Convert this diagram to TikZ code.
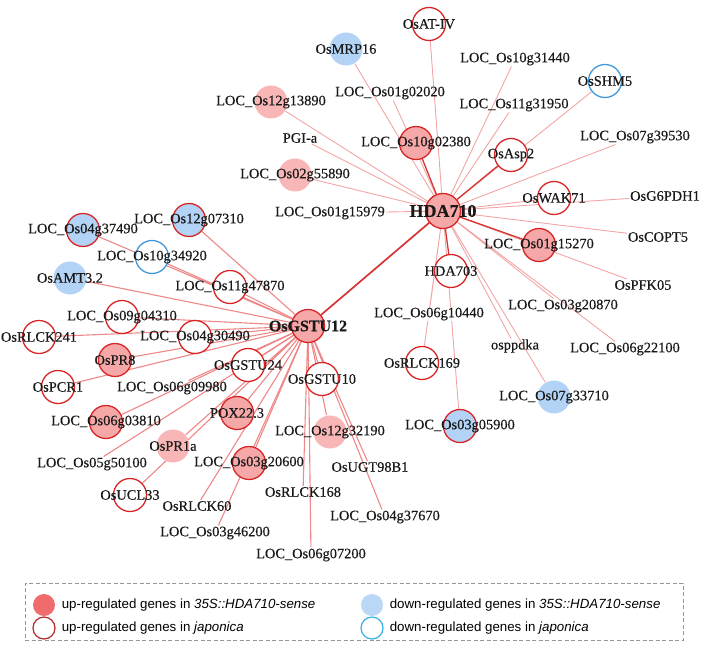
\documentclass[tikz,border=0pt]{standalone}
\usepackage{fontspec}
\setmainfont{Liberation Serif}
\setsansfont{Liberation Sans}
\newfontfamily\genefont{Liberation Serif}[FakeBold=0.4]
\usetikzlibrary{positioning, backgrounds}

\definecolor{nodepink}{RGB}{246,168,168}
\definecolor{nodepinklt}{RGB}{248,182,182}
\definecolor{nodered}{RGB}{216,36,36}
\definecolor{nodeblue}{RGB}{178,211,246}
\definecolor{nodecyan}{RGB}{64,152,218}
\definecolor{edgelight}{RGB}{242,165,165}
\definecolor{edgemid}{RGB}{238,135,135}
\definecolor{edgedark}{RGB}{214,52,52}
\definecolor{legred}{RGB}{240,108,108}
\definecolor{legblue}{RGB}{186,216,246}
\definecolor{legdark}{RGB}{178,40,46}
\definecolor{legcyan}{RGB}{52,178,226}
\definecolor{legframe}{RGB}{150,150,150}

\begin{document}
\begin{tikzpicture}[
    x=1pt, y=-1pt,
    font=\genefont\fontsize{14.4}{16}\selectfont,
    gene/.style={circle, minimum size=33pt, inner sep=0pt, line width=1.3pt},
    upboth/.style={gene, fill=nodepink, draw=nodered},
    upsense/.style={gene, fill=nodepinklt},
    upjap/.style={gene, fill=white, draw=nodered},
    downup/.style={gene, fill=nodeblue, draw=nodered},
    downsense/.style={gene, fill=nodeblue},
    downjap/.style={gene, fill=white, draw=nodecyan},
    lbl/.style={inner sep=1pt, text=black!90},
    hub/.style={font=\genefont\fontsize{18}{20}\selectfont\bfseries},
    tie/.style={draw=edgelight, line width=0.9pt},
    spoke/.style={draw=edgemid, line width=1.1pt},
    strong/.style={draw=edgedark, line width=1.7pt},
    keydot/.style={circle, minimum size=22pt, inner sep=0pt, line width=1.2pt},
    keytxt/.style={font=\sffamily\fontsize{13.3}{15}\selectfont, inner sep=0pt},
]
\useasboundingbox (0,0) rectangle (708,644);

% --- hubs ---
\node[upboth, minimum size=35pt, label={[lbl, hub]center:HDA710}] (hda710) at (443,211) {};
\node[upboth, label={[lbl, font=\genefont\fontsize{16}{18}\selectfont\bfseries]center:OsGSTU12}] (gstu12) at (308,326) {};

% --- HDA710 neighbours ---
\node[upjap, label={[lbl]center:OsAT-IV}] (oat4) at (429,24) {};
\node[downsense, label={[lbl]center:OsMRP16}] (mrp16) at (346,49) {};
\node[upsense, label={[lbl]center:LOC\_Os12g13890}] (g1213890) at (271,102) {};
\node[upboth, label={[lbl]center:LOC\_Os10g02380}] (g1002380) at (416,143) {};
\node[upsense, label={[lbl]center:LOC\_Os02g55890}] (g0255890) at (295,175) {};
\node[downjap, label={[lbl]center:OsSHM5}] (shm5) at (605,81) {};
\node[upjap, label={[lbl]center:OsAsp2}] (asp2) at (511,155) {};
\node[upjap, label={[lbl]center:OsWAK71}] (wak71) at (554,198) {};
\node[upboth, label={[lbl]center:LOC\_Os01g15270}] (g0115270) at (539,245) {};
\node[upjap, label={[lbl]center:HDA703}] (hda703) at (451,271) {};
\node[upjap, label={[lbl]center:OsRLCK169}] (rlck169) at (422,363) {};
\node[downup, label={[lbl]center:LOC\_Os03g05900}] (g0305900) at (460,426) {};
\node[downsense, label={[lbl]center:LOC\_Os07g33710}] (g0733710) at (554,397) {};

\node[lbl] (g0102020) at (390,93) {LOC\_Os01g02020};
\node[lbl] (pgia) at (300,138) {PGI-a};
\node[lbl] (g0115979) at (330,213) {LOC\_Os01g15979};
\node[lbl] (g1031440) at (515,59) {LOC\_Os10g31440};
\node[lbl] (g1131950) at (514,105) {LOC\_Os11g31950};
\node[lbl] (g0739530) at (635,137) {LOC\_Os07g39530};
\node[lbl] (g6pdh1) at (665,196) {OsG6PDH1};
\node[lbl] (copt5) at (658,237) {OsCOPT5};
\node[lbl] (pfk05) at (643,285) {OsPFK05};
\node[lbl] (g0320870) at (563,306) {LOC\_Os03g20870};
\node[lbl] (g0622100) at (625,349) {LOC\_Os06g22100};
\node[lbl] (ppdka) at (515,346) {osppdka};
\node[lbl, fill=white, fill opacity=0.8, text opacity=1] (g0610440) at (429,314) {LOC\_Os06g10440};

% --- OsGSTU12 neighbours ---
\node[downup, label={[lbl]center:LOC\_Os04g37490}] (g0437490) at (83,230) {};
\node[downup, label={[lbl]center:LOC\_Os12g07310}] (g1207310) at (189,220) {};
\node[downjap, label={[lbl]center:LOC\_Os10g34920}] (g1034920) at (152,257) {};
\node[downsense, label={[lbl]center:OsAMT3.2}] (amt32) at (70,278) {};
\node[upjap, label={[lbl]center:LOC\_Os11g47870}] (g1147870) at (230,287) {};
\node[upjap, label={[lbl]center:LOC\_Os09g04310}] (g0904310) at (122,317) {};
\node[upjap, label={[lbl]center:OsRLCK241}] (rlck241) at (39,337) {};
\node[upjap, label={[lbl]center:LOC\_Os04g30490}] (g0430490) at (195,337) {};
\node[upboth, label={[lbl]center:OsPR8}] (pr8) at (115,360) {};
\node[upjap, label={[lbl]center:OsGSTU24}] (gstu24) at (248,365) {};
\node[upjap, label={[lbl]center:OsGSTU10}] (gstu10) at (322,379) {};
\node[upjap, label={[lbl]center:OsPCR1}] (pcr1) at (58,387) {};
\node[upboth, label={[lbl]center:LOC\_Os06g03810}] (g0603810) at (106,422) {};
\node[upboth, label={[lbl]center:POX22.3}] (pox223) at (237,413) {};
\node[upsense, label={[lbl]center:OsPR1a}] (pr1a) at (173,446) {};
\node[upjap, label={[lbl]center:OsUCL33}] (ucl33) at (130,495) {};
\node[upboth, label={[lbl]center:LOC\_Os03g20600}] (g0320600) at (249,463) {};
\node[upsense, label={[lbl]center:LOC\_Os12g32190}] (g1232190) at (330,432) {};

\node[lbl] (g0609980) at (172,388) {LOC\_Os06g09980};
\node[lbl] (g0550100) at (92,464) {LOC\_Os05g50100};
\node[lbl] (rlck60) at (197,506) {OsRLCK60};
\node[lbl] (g0346200) at (215,533) {LOC\_Os03g46200};
\node[lbl] (ugt98b1) at (370,467) {OsUGT98B1};
\node[lbl] (rlck168) at (303,492) {OsRLCK168};
\node[lbl] (g0437670) at (385,517) {LOC\_Os04g37670};
\node[lbl] (g0607200) at (311,555) {LOC\_Os06g07200};

% --- edges ---
\begin{scope}[on background layer]
\draw[tie] (hda710) -- (oat4) (hda710) -- (mrp16) (hda710) -- (g1213890);
\draw[tie] (hda710) -- (g0102020) (hda710) -- (pgia) (hda710) -- (g0255890);
\draw[tie] (hda710) -- (g0115979) (hda710) -- (g1031440) (hda710) -- (g1131950);
\draw[tie] (hda710) -- (shm5) (hda710) -- (g0739530) (hda710) -- (wak71);
\draw[tie] (hda710) -- (g6pdh1) (hda710) -- (copt5) (hda710) -- (pfk05);
\draw[tie] (hda710) -- (g0320870) (hda710) -- (g0622100) (hda710) -- (ppdka);
\draw[tie] (hda710) -- (g0610440) (hda710) -- (rlck169) (hda710) -- (g0305900);
\draw[tie] (hda710) -- (g0733710);
\draw[strong, line width=1.3pt] (hda710) -- (g1002380) (hda710) -- (asp2)
     (hda710) -- (g0115270) (hda710) -- (hda703);
\draw[strong] (hda710) -- (gstu12);

\draw[spoke] (gstu12) -- (g0437490) (gstu12) -- (g1207310) (gstu12) -- (g1034920);
\draw[spoke] (gstu12) -- (amt32) (gstu12) -- (g1147870) (gstu12) -- (g0904310);
\draw[spoke] (gstu12) -- (rlck241) (gstu12) -- (g0430490) (gstu12) -- (pr8);
\draw[spoke] (gstu12) -- (pcr1) (gstu12) -- (g0609980) (gstu12) -- (gstu24);
\draw[spoke] (gstu12) -- (g0603810) (gstu12) -- (g0550100) (gstu12) -- (pox223);
\draw[spoke] (gstu12) -- (pr1a) (gstu12) -- (ucl33) (gstu12) -- (g0320600);
\draw[spoke] (gstu12) -- (rlck60) (gstu12) -- (g0346200) (gstu12) -- (gstu10);
\draw[spoke] (gstu12) -- (g1232190) (gstu12) -- (rlck168) (gstu12) -- (g0607200);
\draw[spoke] (gstu12) -- (ugt98b1) (gstu12) -- (g0437670);
\end{scope}

% --- legend ---
\node[draw=legframe, line width=0.9pt, dash pattern=on 4pt off 2.5pt,
      minimum width=658pt, minimum height=57pt, inner sep=0pt] (legendbox) at (354,611.5) {};
\node[keydot, fill=legred] (kupsense) at (44,605) {};
\node[keydot, fill=legblue] (kdownsense) at (372,605) {};
\node[keydot, fill=white, draw=legdark] (kupjap) at (44,628) {};
\node[keydot, fill=white, draw=legcyan] (kdownjap) at (372,628) {};
\node[keytxt, right=6pt of kupsense] {up-regulated genes in \textit{35S::HDA710-sense}};
\node[keytxt, right=6pt of kdownsense] {down-regulated genes in \textit{35S::HDA710-sense}};
\node[keytxt, right=6pt of kupjap] {up-regulated genes in \textit{japonica}};
\node[keytxt, right=6pt of kdownjap] {down-regulated genes in \textit{japonica}};

\end{tikzpicture}
\end{document}
